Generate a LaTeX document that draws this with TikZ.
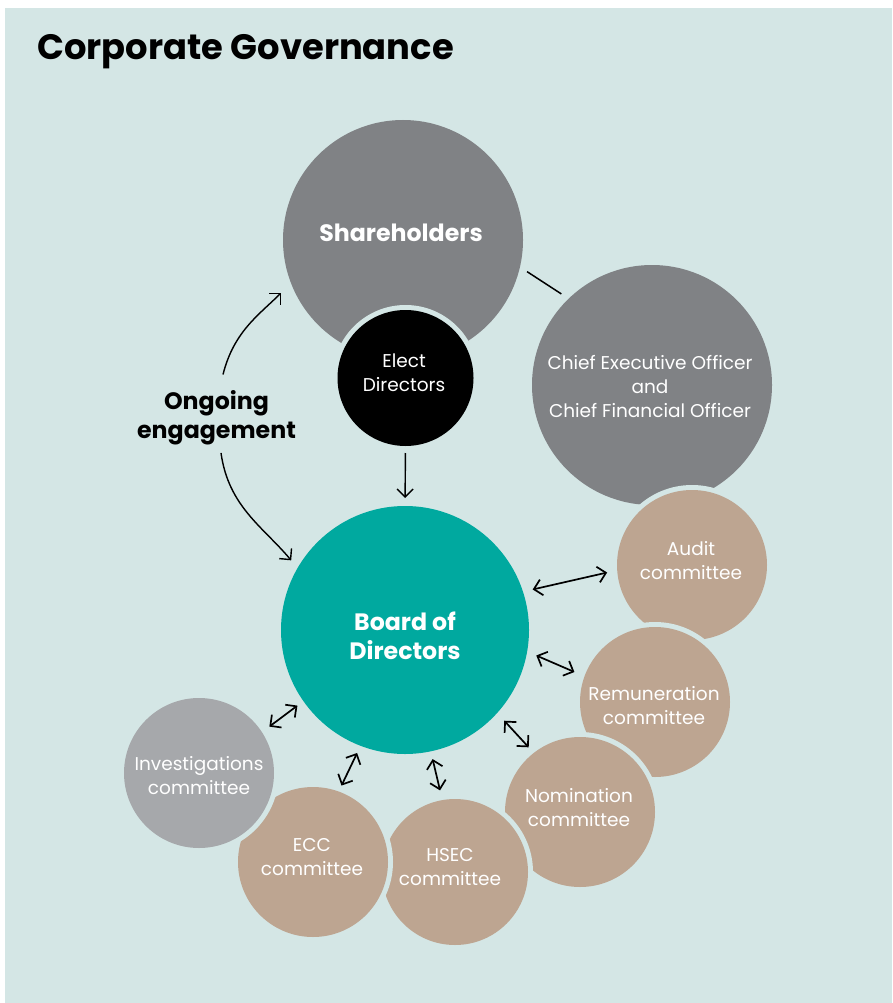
\documentclass[tikz,border=0pt]{standalone}
\usepackage{fontspec}
\setmainfont{Poppins}
\usetikzlibrary{arrows.meta}
\definecolor{bgc}{HTML}{D4E6E5}
\definecolor{dgray}{HTML}{808285}
\definecolor{lgray}{HTML}{A6A8AB}
\definecolor{tan}{HTML}{BDA591}
\definecolor{teal}{HTML}{00A99F}
\begin{document}
\begin{tikzpicture}[x=1pt,y=-1pt,
  circ/.style={circle, inner sep=0pt, outer sep=0pt, minimum size=#1,
     preaction={draw=bgc, line width=10pt}},
  wtxt/.style={text=white, align=center, inner sep=0pt, font=\fontsize{18.5}{24}\selectfont},
  btxt/.style={text=white, align=center, inner sep=0pt, font=\bfseries\fontsize{23.7}{29}\selectfont},
  twoway/.style={line width=1.7pt, {Straight Barb[length=8pt,width=16pt]}-{Straight Barb[length=8pt,width=16pt]}},
  oneway/.style={line width=1.4pt, -{Straight Barb[length=8pt,width=16pt]}}]
\useasboundingbox (0,0) rectangle (892,1003);
\fill[white] (0,0) rectangle (892,1003);
\fill[bgc] (5,8) rectangle (892,1003);
\node[anchor=base west, inner sep=0pt, font=\bfseries\fontsize{35.3}{40}\selectfont] (title) at (37,60) {Corporate Governance};
% circles
\node[circ=240, fill=dgray] (sh) at (403,240) {};
\node[circ=136, fill=black] (el) at (405.5,378) {};
\node[circ=240, fill=dgray] (ceo) at (652,385) {};
\node[circ=150, fill=tan] (au) at (692,565) {};
\node[circ=150, fill=tan] (re) at (655,702) {};
\node[circ=150, fill=tan] (no) at (580,812) {};
\node[circ=146, fill=tan] (hs) at (455,872) {};
\node[circ=150, fill=tan] (ec) at (313,862) {};
\node[circ=150, fill=lgray] (in) at (199,773) {};
\node[circ=248, fill=teal] (bd) at (405,630) {};
% labels
\node[btxt, anchor=base] (shT) at (401,241) {Shareholders};
\node[wtxt] (elT) at (404,372.5) {Elect\\Directors};
\node[wtxt] (ceoT) at (650,387) {Chief Executive Officer\\and\\Chief Financial Officer};
\node[btxt] (bdT) at (405,635.5) {Board of\\Directors};
\node[wtxt] (auT) at (691,561) {Audit\\committee};
\node[wtxt] (reT) at (654,705.5) {Remuneration\\committee};
\node[wtxt] (noT) at (579,807.5) {Nomination\\committee};
\node[wtxt] (inT) at (199,776) {Investigations\\committee};
\node[wtxt] (ecT) at (312,857) {ECC\\committee};
\node[wtxt] (hsT) at (450,867) {HSEC\\committee};
\node[align=center, inner sep=0pt, font=\bfseries\fontsize{23.7}{29}\selectfont] (og) at (216.5,418) {Ongoing\\engagement};
% connectors
\draw[line width=1.5pt, shorten <=8.5pt, shorten >=8.7pt] (sh.-13.5) -- (ceo.134.4);
\draw[oneway, shorten <=7pt, shorten >=8pt] (el.south) -- (bd.north);
\draw[twoway, shorten <=10pt, shorten >=10.3pt] (bd.18.7) -- (au.184.7);
\draw[twoway, shorten <=10pt, shorten >=11pt] (bd.-10.7) -- (re.160.3);
\draw[twoway, shorten <=10.5pt, shorten >=7.6pt] (bd.-42) -- (no.128.1);
\draw[twoway, shorten <=8pt, shorten >=10pt] (bd.-78.2) -- (hs.100.4);
\draw[twoway, shorten <=8pt, shorten >=6.6pt] (bd.-111.3) -- (ec.70.7);
\draw[twoway, shorten <=7.5pt, shorten >=9.3pt] (bd.-145.2) -- (in.33.9);
\draw[oneway, shorten >=14pt] ([xshift=6.5pt,yshift=16pt]og.north) to[out=76,in=225] (sh.201);
\draw[oneway, shorten >=10pt] ([xshift=4.5pt,yshift=-7.5pt]og.south) to[out=-82,in=130] (bd.150);
\end{tikzpicture}
\end{document}
